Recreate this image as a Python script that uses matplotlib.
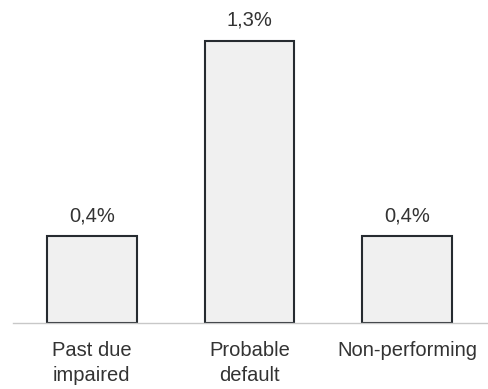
import matplotlib.pyplot as plt

# Loan stage shares
categories = ['Past due\nimpaired', 'Probable\ndefault', 'Non-performing']
values = [0.4, 1.3, 0.4]
value_labels = ['0,4%', '1,3%', '0,4%']

plt.rcParams['font.family'] = ['Liberation Sans', 'DejaVu Sans']
text_color = '#333333'

fig = plt.figure(figsize=(4.89, 3.89), dpi=100)
ax = fig.add_axes([13 / 489, 66 / 389, 476 / 489, 323 / 389])

x = range(len(categories))
bars = ax.bar(x, values, width=0.57, color='#f0f0f0', edgecolor='#262b30', linewidth=1.5)

for bar, lab in zip(bars, value_labels):
    ax.annotate(lab, (bar.get_x() + bar.get_width() / 2, bar.get_height()),
                xytext=(0, 8), textcoords='offset points', ha='center', va='bottom',
                fontsize=14.5, color=text_color)

ax.set_xlim(-0.5, 2.52)
ax.set_ylim(0, 1.489)
ax.set_xticks(list(x))
ax.set_xticklabels(categories, fontsize=14.5, color=text_color, linespacing=1.38)
ax.tick_params(axis='x', length=0, pad=13)
ax.set_yticks([])

for side in ['top', 'right', 'left']:
    ax.spines[side].set_visible(False)
ax.spines['bottom'].set_color('#c8c8c8')
ax.spines['bottom'].set_linewidth(1.0)

fig.savefig('out.png', dpi=100)
